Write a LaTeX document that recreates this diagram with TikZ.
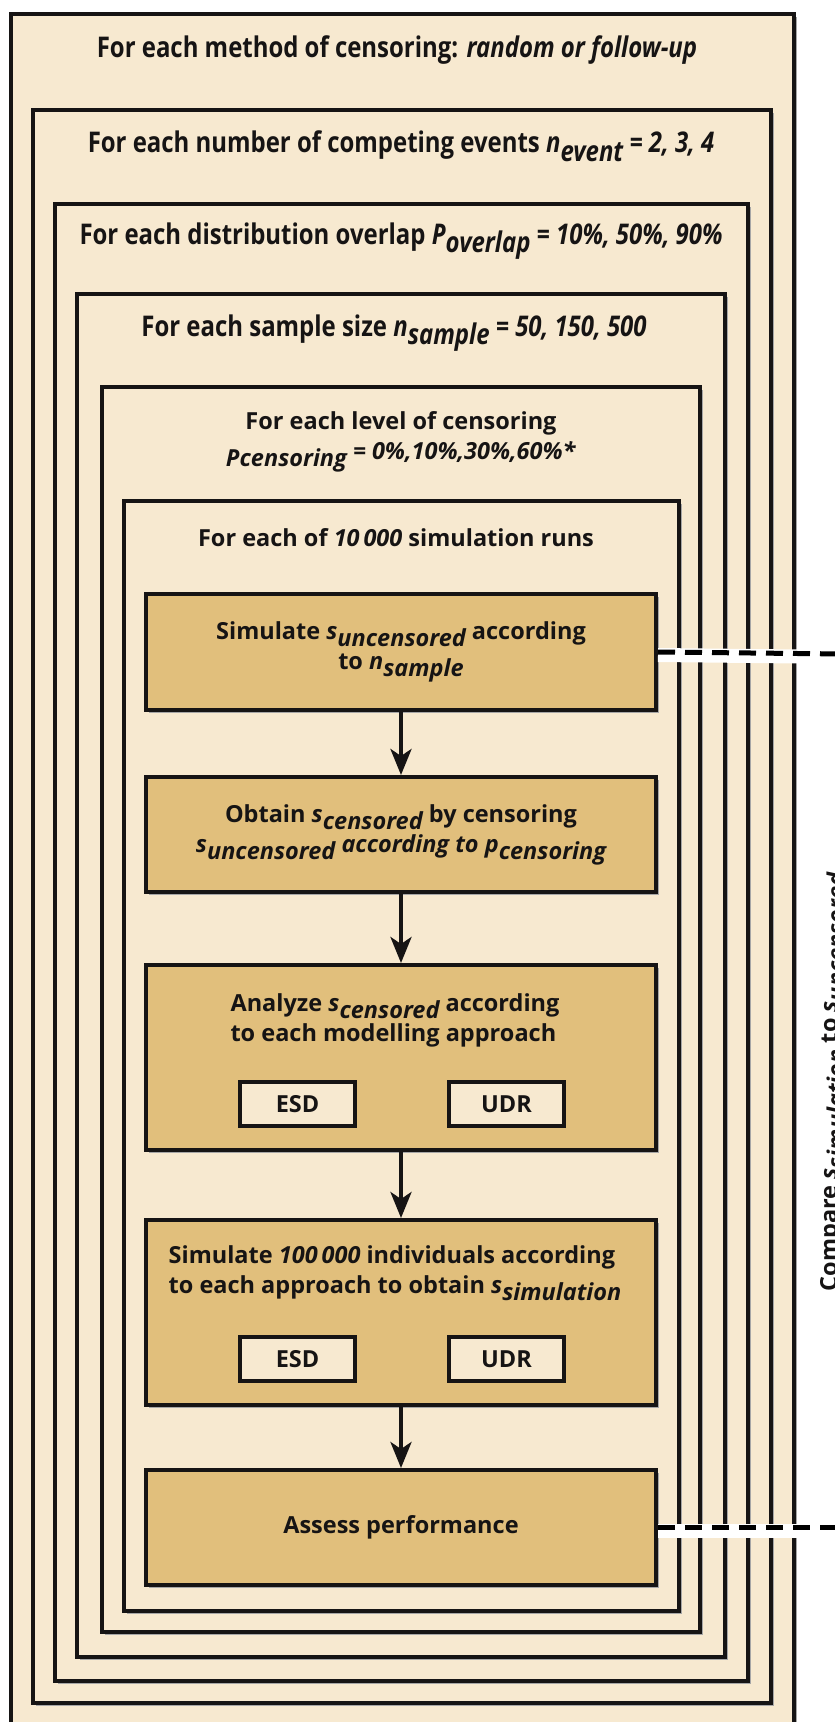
\documentclass[tikz,border=0pt]{standalone}
\usepackage{fontspec}
\setmainfont{Open Sans}
\newfontfamily\narrowfont[FakeStretch=0.84]{Open Sans}
\usepackage{xcolor}
\usetikzlibrary{positioning, arrows.meta, shadows}

\definecolor{paper}{HTML}{F7E9D0}
\definecolor{tanbox}{HTML}{E1BF7C}
\definecolor{ink}{HTML}{161414}

% lowered italic index, as in s_uncensored
\newcommand{\lo}[1]{\raisebox{-0.55ex}{\itshape #1}}

\tikzset{
    frame/.style={draw=ink, line width=4pt, fill=paper,
        drop shadow={shadow xshift=3pt, shadow yshift=-3pt, fill=gray!70, opacity=1}},
    stepbox/.style={draw=ink, line width=4pt, fill=tanbox, minimum width=510pt,
        inner sep=0pt, align=center, text=ink,
        drop shadow={shadow xshift=3pt, shadow yshift=-3pt, fill=gray!70, opacity=1}},
    methodbox/.style={draw=ink, line width=3.5pt, fill=paper, minimum width=115pt,
        minimum height=44pt, inner sep=0pt, text=ink},
    looplabel/.style={text=ink, align=center, inner sep=0pt},
    narrowlabel/.style={looplabel, font=\narrowfont\bfseries\fontsize{28.5}{34}\selectfont},
    flow/.style={draw=ink, line width=4pt, -{Stealth[length=26pt, width=21pt, inset=7pt]}},
    casing/.style={white, line width=14pt},
    dashlink/.style={black, line width=5pt, dash pattern=on 17pt off 10pt},
}

\begin{document}
\begin{tikzpicture}[x=1pt, y=-1pt, font=\bfseries\fontsize{23.5}{30}\selectfont]
        \useasboundingbox (0,0) rectangle (835,1722);
        \clip (0,0) rectangle (835,1722);
        \fill[white] (0,0) rectangle (835,1722);

        % nested loops
        \draw[frame] (11,14) rectangle (794,1760);
        \draw[frame] (33,110) rectangle (771,1703);
        \draw[frame] (55,204) rectangle (748,1681);
        \draw[frame] (77,294) rectangle (725,1657);
        \draw[frame] (102,387) rectangle (700,1632);
        \draw[frame] (124,501) rectangle (679,1611);

        \node[narrowlabel] (method) at (397,50)
            {For each method of censoring: \textit{random or follow-up}};
        \node[narrowlabel] (events) at (401,146)
            {For each number of competing events \textit{n}\lo{event} \textit{= 2, 3, 4}};
        \node[narrowlabel] (overlap) at (401,241)
            {For each distribution overlap \textit{P}\lo{overlap} \textit{= 10\%, 50\%, 90\%}};
        \node[narrowlabel] (sample) at (394,333)
            {For each sample size \textit{n}\lo{sample} \textit{= 50, 150, 500}};
        \node[looplabel] (level) at (401,442)
            {For each level of censoring\\
             \lo{Pcensoring} \textit{= 0\%,10\%,30\%,60\%*}};
        \node[looplabel] (runs) at (396,538) {For each of \textit{10\,000} simulation runs};

        % steps
        \node[stepbox, minimum height=116pt] (sim) at (401,652)
            {Simulate \textit{s}\lo{uncensored} according\\to \textit{n}\lo{sample}};
        \node[stepbox, minimum height=115pt] (obt) at (401,834.5)
            {Obtain \textit{s}\lo{censored} by censoring\\
             \textit{s}\lo{uncensored} \textit{according to p}\lo{censoring}};
        \node[stepbox, minimum height=185pt] (ana) at (401,1057.5) {};
        \node[looplabel, align=left] (anatxt) at (395,1020)
            {Analyze \textit{s}\lo{censored} according\\to each modelling approach};
        \node[methodbox] (esdA) at (297.5,1104) {ESD};
        \node[methodbox] (udrA) at (506.5,1104) {UDR};
        \node[stepbox, minimum height=185pt] (ind) at (401,1312.5) {};
        \node[looplabel, align=left] (indtxt) at (395,1273)
            {Simulate \textit{100\,000} individuals according\\to each approach to obtain \textit{s}\lo{simulation}};
        \node[methodbox] (esdB) at (297.5,1359) {ESD};
        \node[methodbox] (udrB) at (506.5,1359) {UDR};
        \node[stepbox, minimum height=115pt] (perf) at (401,1527.5) {Assess performance};

        \draw[flow] (sim) -- (obt);
        \draw[flow] (obt) -- (ana);
        \draw[flow] (ana) -- (ind);
        \draw[flow] (ind) -- (perf);

        % comparison link, cut by the page edge
        \coordinate (R1) at (845,654);
        \coordinate (R2) at (845,1527.5);
        \draw[casing] ([yshift=-3pt]sim.east) -- ([yshift=-3pt]R1);
        \draw[dashlink] (sim.east) -- (R1);
        \draw[casing] ([yshift=-3pt]perf.east) -- ([yshift=-3pt]R2);
        \draw[dashlink] (perf.east) -- (R2);
        \node[looplabel, rotate=90, anchor=north] (cmp) at (820,1082)
            {Compare \textit{s}\lo{simulation} to \textit{s}\lo{uncensored}};
\end{tikzpicture}
\end{document}
